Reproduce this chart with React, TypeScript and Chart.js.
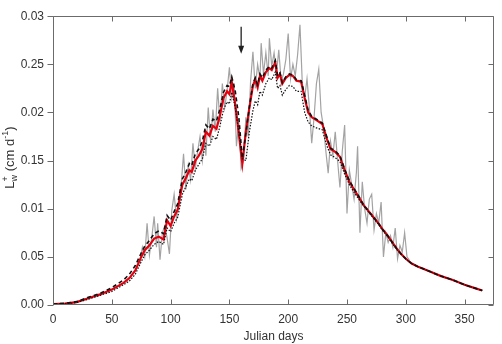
import { useEffect, useRef } from "react";
import { Chart, registerables } from "chart.js";

Chart.register(...registerables);

// Axis ticks
const xTickValues = [0, 50, 100, 150, 200, 250, 300, 350];
const yTickValues = [0, 0.005, 0.01, 0.015, 0.02, 0.025, 0.03];
const yTickLabels = ["0.00", "0.05", "0.01", "0.15", "0.02", "0.25", "0.03"];

// Days at which the modelled series are given
const modelDays = [
  0, 10, 20, 30, 40, 50, 60, 65, 70, 75,
  78, 82, 86, 90, 94, 97, 100, 103, 106, 110,
  113, 116, 118, 121, 124, 127, 130, 133, 136, 139,
  142, 145, 148, 150, 152, 155, 158, 161, 164, 167,
  170, 172, 174, 176, 178, 181, 184, 186, 189, 191,
  193, 195, 198, 201, 204, 207, 211, 214, 217, 220,
  224, 229, 233, 236, 240, 244, 248, 252, 256, 260,
  264, 268, 272, 276, 280, 284, 288, 292, 296, 300,
  305, 310, 320, 330, 340, 350, 360, 365,
];

// Red solid series
const redValues = [
  0.0001, 0.00015, 0.0003, 0.0007, 0.0011, 0.0016, 0.0023, 0.0028, 0.0036, 0.005,
  0.0057, 0.0062, 0.0069, 0.0071, 0.0068, 0.0088, 0.0082, 0.0092, 0.0099, 0.0125,
  0.0132, 0.014, 0.0138, 0.015, 0.0155, 0.0162, 0.018, 0.0176, 0.0186, 0.0183,
  0.0197, 0.0215, 0.0222, 0.0219, 0.0232, 0.0208, 0.0178, 0.0147, 0.018, 0.0205,
  0.0228, 0.0234, 0.0226, 0.0238, 0.0233, 0.0242, 0.0246, 0.0244, 0.0252, 0.0236,
  0.024, 0.023, 0.0236, 0.0239, 0.0238, 0.0233, 0.0232, 0.0215, 0.02, 0.0195,
  0.0192, 0.0188, 0.0172, 0.0162, 0.0159, 0.0154, 0.014, 0.0128, 0.012, 0.0112,
  0.0104, 0.0098, 0.0092, 0.0086, 0.0079, 0.0073, 0.0066, 0.0059, 0.0053, 0.0048,
  0.0043, 0.004, 0.0035, 0.003, 0.0026, 0.0021, 0.0017, 0.0015,
];

// Black dashed series
const dashedValues = [
  0.0001, 0.00017, 0.00035, 0.0008, 0.0012, 0.0018, 0.0026, 0.0032, 0.0041, 0.0054,
  0.0061, 0.0067, 0.0074, 0.0077, 0.0074, 0.0093, 0.0088, 0.0097, 0.0105, 0.0131,
  0.0138, 0.0147, 0.0145, 0.0157, 0.0162, 0.017, 0.0187, 0.0183, 0.0193, 0.0191,
  0.0204, 0.0221, 0.0228, 0.0227, 0.0237, 0.0222, 0.0195, 0.0152, 0.0178, 0.0206,
  0.023, 0.0236, 0.0229, 0.024, 0.0236, 0.0244, 0.0248, 0.0246, 0.0254, 0.0238,
  0.0241, 0.0231, 0.0237, 0.024, 0.0239, 0.0234, 0.0233, 0.0218, 0.0202, 0.0196,
  0.0193, 0.0189, 0.0174, 0.0163, 0.016, 0.0155, 0.0141, 0.0129, 0.0121, 0.0113,
  0.0104, 0.0098, 0.0092, 0.0086, 0.0079, 0.0073, 0.0066, 0.0059, 0.0053, 0.0048,
  0.0043, 0.004, 0.0035, 0.003, 0.0026, 0.0021, 0.0017, 0.0015,
];

// Black dotted series
const dottedValues = [
  0.0001, 0.00013, 0.00025, 0.0006, 0.001, 0.0014, 0.0021, 0.0025, 0.0032, 0.0045,
  0.0052, 0.0057, 0.0063, 0.0066, 0.0063, 0.008, 0.0076, 0.0085, 0.0091, 0.0115,
  0.0123, 0.0131, 0.0129, 0.014, 0.0146, 0.0152, 0.0168, 0.0165, 0.0175, 0.0172,
  0.0186, 0.0203, 0.0211, 0.0209, 0.0221, 0.0205, 0.018, 0.0152, 0.015, 0.018,
  0.0202, 0.0212, 0.0208, 0.0222, 0.0218, 0.023, 0.0236, 0.0234, 0.0242, 0.0225,
  0.0228, 0.0218, 0.0224, 0.0228, 0.0227, 0.0222, 0.0222, 0.02, 0.019, 0.0186,
  0.0184, 0.0182, 0.0165, 0.0156, 0.0153, 0.0149, 0.0136, 0.0125, 0.0117, 0.011,
  0.0103, 0.0097, 0.0091, 0.0085, 0.0078, 0.0072, 0.0065, 0.0058, 0.0053, 0.0048,
  0.0043, 0.004, 0.0035, 0.003, 0.0026, 0.0021, 0.0017, 0.0015,
];

// Grey daily series
const greyDays = [
  74, 76, 78, 80, 82, 84, 86, 88, 89, 91,
  93, 95, 97, 99, 101, 103, 105, 107, 109, 111,
  113, 115, 117, 119, 121, 123, 125, 127, 129, 130,
  132, 134, 136, 138, 140, 142, 144, 146, 148, 150,
  152, 154, 156, 158, 160, 162, 164, 166, 168, 170,
  172, 174, 176, 177, 179, 181, 183, 184, 186, 188,
  190, 192, 194, 196, 198, 200, 202, 204, 206, 208,
  210, 212, 214, 216, 218, 220, 222, 224, 226, 228,
  230, 232, 234, 236, 238, 240, 242, 244, 246, 248,
  250, 252, 254, 256, 258, 259, 261, 263, 265, 267,
  269, 271, 273, 275, 277, 279, 281, 283, 285, 287,
  289, 291, 293, 295, 297, 299, 301, 303,
];
const greyValues = [
  0.0045, 0.006, 0.005, 0.0085, 0.0052, 0.007, 0.0092, 0.006, 0.0085, 0.0047,
  0.0075, 0.0082, 0.007, 0.0053, 0.0098, 0.0115, 0.009, 0.011, 0.0125, 0.0157,
  0.012, 0.0145, 0.013, 0.0168, 0.0142, 0.016, 0.0175, 0.015, 0.0172, 0.0155,
  0.0205, 0.017, 0.0203, 0.018, 0.0225, 0.019, 0.023, 0.0205, 0.0222, 0.0247,
  0.0215, 0.023, 0.0165, 0.019, 0.0142, 0.015, 0.0195, 0.0175, 0.0232, 0.0263,
  0.0225, 0.025, 0.0235, 0.0272, 0.024, 0.0262, 0.0238, 0.0277, 0.0248, 0.0262,
  0.024, 0.0265, 0.0232, 0.024, 0.0255, 0.0282, 0.0235, 0.025, 0.0238, 0.026,
  0.0291, 0.023, 0.0215, 0.0235, 0.0205, 0.0168, 0.0195, 0.023, 0.0245, 0.02,
  0.0185, 0.016, 0.0137, 0.017, 0.0155, 0.018, 0.015, 0.0122, 0.016, 0.0187,
  0.0095, 0.014, 0.0125, 0.011, 0.0138, 0.0165, 0.0075, 0.0128, 0.01, 0.0085,
  0.011, 0.0115, 0.0078, 0.0095, 0.0085, 0.0107, 0.005, 0.0075, 0.0065, 0.0072,
  0.006, 0.008, 0.0048, 0.0062, 0.0055, 0.0075, 0.005, 0.0047,
];

// Arrow marking day 160
const arrowDay = 160;
const arrowFrom = 0.0289;
const arrowTo = 0.0261;

const FONT = "'Liberation Sans', Arial, Helvetica, sans-serif";
const TEXT = "#333333";
const FRAME = "#6b6b6b";

const toPoints = (xs: number[], ys: number[]) => xs.map((x, i) => ({ x, y: ys[i] }));

const framePlugin = {
  id: "frameTicks",
  afterDatasetsDraw(chart: any) {
    const { ctx, chartArea: a, scales } = chart;
    const xs = scales.x;
    const ys = scales.y;
    const L = Math.round(a.left) + 0.5;
    const R = Math.round(a.right) - 0.5;
    const T = Math.round(a.top) + 0.5;
    const B = Math.round(a.bottom) - 0.5;
    ctx.save();
    ctx.strokeStyle = FRAME;
    ctx.lineWidth = 1;
    ctx.beginPath();
    ctx.rect(L, T, R - L, B - T);
    for (const v of xTickValues) {
      const px = Math.round(xs.getPixelForValue(v)) + 0.5;
      ctx.moveTo(px, B);
      ctx.lineTo(px, B - 5);
      ctx.moveTo(px, T);
      ctx.lineTo(px, T + 5);
    }
    for (const v of yTickValues) {
      const py = Math.round(ys.getPixelForValue(v)) + 0.5;
      ctx.moveTo(L, py);
      ctx.lineTo(L - 6, py);
      ctx.moveTo(R, py);
      ctx.lineTo(R - 5, py);
    }
    ctx.stroke();

    // arrow
    const ax = xs.getPixelForValue(arrowDay);
    const ay1 = ys.getPixelForValue(arrowFrom);
    const ay2 = ys.getPixelForValue(arrowTo);
    ctx.strokeStyle = "#222";
    ctx.fillStyle = "#222";
    ctx.lineWidth = 1.3;
    ctx.beginPath();
    ctx.moveTo(ax, ay1);
    ctx.lineTo(ax, ay2 - 6);
    ctx.stroke();
    ctx.beginPath();
    ctx.moveTo(ax, ay2);
    ctx.lineTo(ax - 3, ay2 - 8);
    ctx.lineTo(ax + 3, ay2 - 8);
    ctx.closePath();
    ctx.fill();

    // y axis title with sub/superscripts
    const big = `13px ${FONT}`;
    const small = `9px ${FONT}`;
    ctx.fillStyle = TEXT;
    ctx.textBaseline = "alphabetic";
    ctx.textAlign = "left";
    const parts: { t: string; f: string; dy: number; adv: boolean }[] = [
      { t: "L", f: big, dy: 0, adv: true },
      { t: "+", f: small, dy: -6, adv: false },
      { t: "w", f: small, dy: 3, adv: true },
      { t: " (cm d", f: big, dy: 0, adv: true },
      { t: "-1", f: small, dy: -6, adv: true },
      { t: ")", f: big, dy: 0, adv: true },
    ];
    let total = 0;
    for (const p of parts) {
      ctx.font = p.f;
      if (p.adv) total += ctx.measureText(p.t).width;
    }
    ctx.translate(14, (a.top + a.bottom) / 2 - 3);
    ctx.rotate(-Math.PI / 2);
    let cx = -total / 2;
    for (const p of parts) {
      ctx.font = p.f;
      ctx.fillText(p.t, cx, p.dy);
      if (p.adv) cx += ctx.measureText(p.t).width;
    }
    ctx.restore();
  },
};

export default function App() {
  const ref = useRef<HTMLCanvasElement | null>(null);

  useEffect(() => {
    document.body.style.margin = "0";
    const canvas = ref.current;
    if (!canvas) return;
    const chart = new Chart(canvas, {
      type: "line",
      data: {
        datasets: [
          {
            label: "grey",
            data: toPoints(greyDays, greyValues),
            borderColor: "#a3a3a3",
            borderWidth: 1.2,
            pointRadius: 0,
            order: 4,
          },
          {
            label: "red",
            data: toPoints(modelDays, redValues),
            borderColor: "#e3000f",
            borderWidth: 2.2,
            pointRadius: 0,
            order: 3,
          },
          {
            label: "dotted",
            data: toPoints(modelDays, dottedValues),
            borderColor: "#111",
            borderWidth: 1.2,
            borderDash: [1.5, 1.5],
            pointRadius: 0,
            order: 2,
          },
          {
            label: "dashed",
            data: toPoints(modelDays, dashedValues),
            borderColor: "#111",
            borderWidth: 1.6,
            borderDash: [4, 3],
            pointRadius: 0,
            order: 1,
          },
        ],
      },
      options: {
        responsive: false,
        animation: false,
        events: [],
        layout: { padding: { top: 5, right: 8, left: 0, bottom: 0 } },
        plugins: { legend: { display: false }, tooltip: { enabled: false } },
        elements: { line: { tension: 0 } },
        scales: {
          x: {
            type: "linear",
            min: 0,
            max: 375,
            grid: { display: false, drawTicks: false, tickLength: 0 },
            border: { display: false },
            afterBuildTicks: (s: any) => {
              s.ticks = xTickValues.map((v) => ({ value: v }));
            },
            afterFit: (s: any) => {
              s.height = 39;
            },
            ticks: {
              color: TEXT,
              font: { family: FONT, size: 12 },
              padding: 7,
              maxRotation: 0,
              autoSkip: false,
              callback: (v: any) => String(v),
            },
            title: {
              display: true,
              text: "Julian days",
              color: TEXT,
              font: { family: FONT, size: 12 },
              padding: { top: 0, bottom: 0 },
            },
          },
          y: {
            type: "linear",
            min: 0,
            max: 0.03,
            grid: { display: false, drawTicks: false, tickLength: 0 },
            border: { display: false },
            afterBuildTicks: (s: any) => {
              s.ticks = yTickValues.map((v) => ({ value: v }));
            },
            afterFit: (s: any) => {
              s.width = 53;
            },
            ticks: {
              color: TEXT,
              font: { family: FONT, size: 12 },
              padding: 9,
              autoSkip: false,
              callback: (_v: any, i: number) => yTickLabels[i],
            },
          },
        },
      },
      plugins: [framePlugin],
    });
    return () => chart.destroy();
  }, []);

  return <canvas ref={ref} width={502} height={344} style={{ display: "block" }} />;
}
